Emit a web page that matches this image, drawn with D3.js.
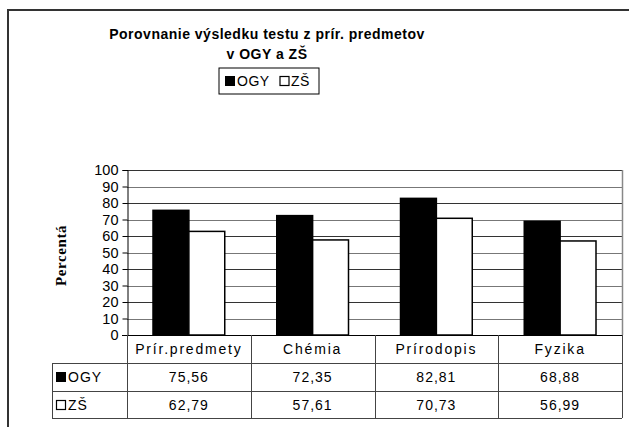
<!DOCTYPE html>
<html>
<head>
<meta charset="utf-8">
<script src="https://cdn.jsdelivr.net/npm/d3@7"></script>
<style>
  body { margin: 0; background: #fff; }
  svg { display: block; }
</style>
</head>
<body>
<div id="chart"></div>
<script>
// data
const categories = ["Prír.predmety", "Chémia", "Prírodopis", "Fyzika"]
const seriesNames = ["OGY", "ZŠ"]
const ogyValues = [75.56, 72.35, 82.81, 68.88]
const zsValues = [62.79, 57.61, 70.73, 56.99]
const yTicks = [0, 10, 20, 30, 40, 50, 60, 70, 80, 90, 100]

const width = 629
const height = 427
const plot = { left: 127, right: 622, top: 170, bottom: 335 }
const rowLines = [363, 391, 418]
const fmt = v => v.toFixed(2).replace(".", ",")

const svg = d3.select("#chart").append("svg")
  .attr("width", width).attr("height", height)
  .style("font-family", "'Liberation Sans', Arial, sans-serif")

// outer frame (right and bottom fall outside the view)
svg.append("rect")
  .attr("x", 8).attr("y", 10)
  .attr("width", 700).attr("height", 500)
  .attr("fill", "none").attr("stroke", "#333").attr("stroke-width", 2)

// title
const title = svg.append("text")
  .attr("text-anchor", "middle")
  .attr("font-weight", "bold").attr("font-size", 14)
  .style("letter-spacing", "0.5px")
title.append("tspan").attr("x", 267).attr("y", 39).text("Porovnanie výsledku testu z prír. predmetov")
title.append("tspan").attr("x", 267).attr("y", 59).text("v OGY a ZŠ")

// legend
const lg = svg.append("g").attr("transform", "translate(219,68)")
lg.append("rect").attr("width", 100).attr("height", 26)
  .attr("fill", "#fff").attr("stroke", "#000")
lg.append("rect").attr("x", 6).attr("y", 8).attr("width", 10).attr("height", 10).attr("fill", "#000")
lg.append("text").attr("x", 18).attr("y", 18).attr("font-size", 14).style("letter-spacing", "0.5px").text(seriesNames[0])
lg.append("rect").attr("x", 61).attr("y", 8.5).attr("width", 9).attr("height", 9)
  .attr("fill", "#fff").attr("stroke", "#000").attr("stroke-width", 1.2)
lg.append("text").attr("x", 72).attr("y", 18).attr("font-size", 14).style("letter-spacing", "0.5px").text(seriesNames[1])

// scales
const x = d3.scaleBand().domain(categories).range([plot.left, plot.right])
const xs = d3.scaleBand().domain(seriesNames)
  .range([26, x.bandwidth() - 26])
const y = d3.scaleLinear().domain([0, 100]).range([plot.bottom, plot.top])

// gridlines
svg.append("g").selectAll("line").data(yTicks.filter(t => t > 0)).join("line")
  .attr("x1", plot.left).attr("x2", plot.right)
  .attr("y1", d => Math.round(y(d)) + 0.5).attr("y2", d => Math.round(y(d)) + 0.5)
  .attr("stroke", (d, i) => i % 2 ? "#333" : "#777")
// right plot border
svg.append("line")
  .attr("x1", plot.right + 0.5).attr("x2", plot.right + 0.5)
  .attr("y1", plot.top).attr("y2", plot.bottom)
  .attr("stroke", "#888").attr("stroke-width", 1.5)

// y axis
const yAxis = d3.axisLeft(y).tickValues(yTicks).tickSize(5).tickPadding(4)
const yAxisGroup = svg.append("g")
  .attr("transform", `translate(${plot.left + 0.5},0)`)
  .call(yAxis)
yAxisGroup.select(".domain").attr("stroke", "#000")
yAxisGroup.selectAll("text").attr("font-size", 14.5).attr("fill", "#000")
  .style("font-family", "'Liberation Sans', Arial, sans-serif")

// axis title
svg.append("text")
  .attr("transform", `translate(66,${(plot.top + plot.bottom) / 2 + 3}) rotate(-90)`)
  .attr("text-anchor", "middle")
  .attr("font-family", "'Liberation Serif', 'Times New Roman', serif")
  .attr("font-weight", "bold").attr("font-size", 15)
  .style("letter-spacing", "0.6px")
  .text("Percentá")

// bars
const rows = categories.map((c, i) => ({ cat: c, vals: [ogyValues[i], zsValues[i]] }))
const groups = svg.append("g").selectAll("g").data(rows).join("g")
  .attr("transform", d => `translate(${x(d.cat)},0)`)
groups.selectAll("rect")
  .data(d => d.vals.map((v, j) => ({ s: seriesNames[j], v })))
  .join("rect")
  .attr("x", d => xs(d.s))
  .attr("y", d => y(d.v))
  .attr("width", xs.bandwidth())
  .attr("height", d => y(0) - y(d.v))
  .attr("fill", d => d.s === "OGY" ? "#000" : "#fff")
  .attr("stroke", "#000").attr("stroke-width", 1.5)

// x axis line
svg.append("line")
  .attr("x1", plot.left - 5).attr("x2", plot.right)
  .attr("y1", plot.bottom + 0.5).attr("y2", plot.bottom + 0.5)
  .attr("stroke", "#000")

// data table
const table = svg.append("g")
const tableLeft = 52
rowLines.forEach(ry => {
  table.append("line")
    .attr("x1", tableLeft).attr("x2", plot.right)
    .attr("y1", ry + 0.5).attr("y2", ry + 0.5)
    .attr("stroke", "#444")
})
const colEdges = categories.map(c => x(c)).concat([plot.right])
colEdges.forEach(cx => {
  table.append("line")
    .attr("x1", Math.round(cx) + 0.5).attr("x2", Math.round(cx) + 0.5)
    .attr("y1", plot.bottom).attr("y2", rowLines[2])
    .attr("stroke", "#444")
})
table.append("line")
  .attr("x1", tableLeft + 0.5).attr("x2", tableLeft + 0.5)
  .attr("y1", rowLines[0]).attr("y2", rowLines[2])
  .attr("stroke", "#444")

const cellText = (tx, ty, t, ls) => table.append("text")
  .attr("x", tx).attr("y", ty).attr("text-anchor", "middle")
  .attr("font-size", 14).style("letter-spacing", ls).text(t)

categories.forEach((c, i) => {
  const cx = x(c) + x.bandwidth() / 2
  cellText(cx, plot.bottom + 19, c, "1.8px")
  cellText(cx, rowLines[0] + 19, fmt(ogyValues[i]), "1px")
  cellText(cx, rowLines[1] + 19, fmt(zsValues[i]), "1px")
})

// legend keys in table rows
table.append("rect").attr("x", tableLeft + 4).attr("y", rowLines[0] + 9)
  .attr("width", 10).attr("height", 10).attr("fill", "#000")
table.append("text").attr("x", tableLeft + 16).attr("y", rowLines[0] + 19)
  .attr("font-size", 14).style("letter-spacing", "1px").text(seriesNames[0])
table.append("rect").attr("x", tableLeft + 4.5).attr("y", rowLines[1] + 9.5)
  .attr("width", 9).attr("height", 9)
  .attr("fill", "#fff").attr("stroke", "#000").attr("stroke-width", 1.2)
table.append("text").attr("x", tableLeft + 16).attr("y", rowLines[1] + 19)
  .attr("font-size", 14).style("letter-spacing", "1px").text(seriesNames[1])
</script>
</body>
</html>
